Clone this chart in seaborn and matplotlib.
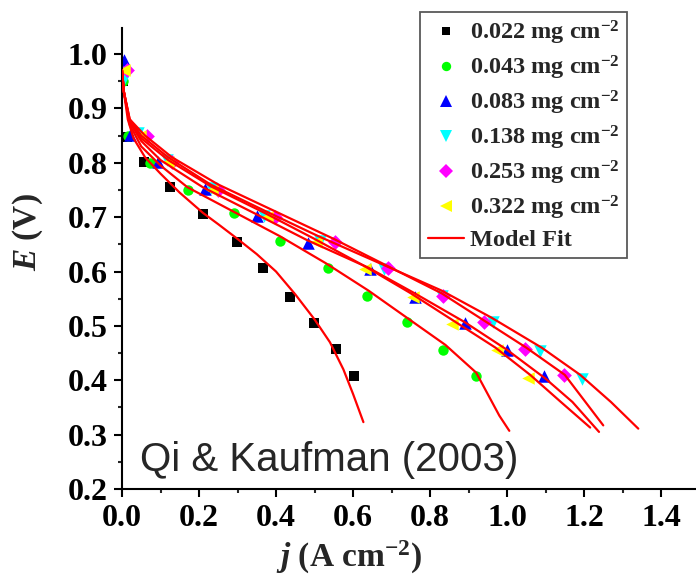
import numpy as np
import pandas as pd
import matplotlib
matplotlib.use("Agg")
import matplotlib.pyplot as plt
from matplotlib.lines import Line2D
import seaborn as sns

# ---------------- data ----------------
labels = ["0.022", "0.043", "0.083", "0.138", "0.253", "0.322"]

j_022 = [0.003, 0.012, 0.058, 0.125, 0.211, 0.298, 0.367, 0.436, 0.499, 0.555, 0.603]
E_022 = [0.95, 0.848, 0.801, 0.755, 0.706, 0.655, 0.607, 0.554, 0.506, 0.457, 0.408]
j_043 = [0.003, 0.015, 0.073, 0.172, 0.292, 0.41, 0.534, 0.637, 0.741, 0.833, 0.919]
E_043 = [0.95, 0.85, 0.80, 0.750, 0.708, 0.657, 0.607, 0.555, 0.507, 0.456, 0.407]
j_083 = [0.004, 0.021, 0.094, 0.216, 0.35, 0.484, 0.644, 0.761, 0.892, 1.0, 1.097]
E_083 = [0.99, 0.851, 0.802, 0.752, 0.703, 0.653, 0.605, 0.554, 0.506, 0.456, 0.408]
j_138 = [0.004, 0.042, 0.116, 0.23, 0.37, 0.514, 0.68, 0.83, 0.964, 1.087, 1.194]
E_138 = [0.955, 0.854, 0.806, 0.753, 0.703, 0.656, 0.605, 0.555, 0.508, 0.454, 0.403]
j_253 = [0.014, 0.064, 0.129, 0.25, 0.397, 0.553, 0.69, 0.833, 0.941, 1.048, 1.148]
E_253 = [0.97, 0.85, 0.802, 0.75, 0.701, 0.655, 0.606, 0.555, 0.507, 0.457, 0.41]
j_322 = [0.006, 0.047, 0.12, 0.233, 0.376, 0.504, 0.631, 0.757, 0.856, 0.973, 1.054]
E_322 = [0.97, 0.85, 0.802, 0.75, 0.701, 0.655, 0.604, 0.554, 0.503, 0.456, 0.405]

# model fit curves
fj_022 = [0.0, 0.005, 0.015, 0.03, 0.06, 0.10, 0.15, 0.21, 0.25, 0.30, 0.35, 0.40, 0.45, 0.50, 0.54, 0.575, 0.60, 0.627]
fE_022 = [0.97, 0.93, 0.88, 0.845, 0.81, 0.78, 0.745, 0.708, 0.687, 0.66, 0.632, 0.60, 0.558, 0.512, 0.47, 0.42, 0.375, 0.323]
fj_043 = [0.0, 0.005, 0.02, 0.05, 0.10, 0.17, 0.29, 0.41, 0.53, 0.64, 0.75, 0.84, 0.92, 0.98, 1.006]
fE_043 = [0.97, 0.93, 0.87, 0.83, 0.795, 0.755, 0.71, 0.665, 0.615, 0.565, 0.51, 0.465, 0.414, 0.335, 0.307]
fj_083 = [0.0, 0.005, 0.02, 0.05, 0.10, 0.21, 0.35, 0.48, 0.64, 0.76, 0.89, 1.0, 1.10, 1.17, 1.239]
fE_083 = [0.97, 0.93, 0.875, 0.84, 0.805, 0.755, 0.705, 0.658, 0.607, 0.56, 0.507, 0.456, 0.403, 0.36, 0.305]
fj_138 = [0.0, 0.005, 0.02, 0.05, 0.12, 0.23, 0.37, 0.51, 0.68, 0.83, 0.96, 1.09, 1.19, 1.27, 1.341]
fE_138 = [0.97, 0.93, 0.88, 0.85, 0.81, 0.76, 0.712, 0.665, 0.612, 0.565, 0.515, 0.46, 0.41, 0.36, 0.311]
fj_253 = [0.0, 0.005, 0.02, 0.06, 0.13, 0.25, 0.40, 0.55, 0.69, 0.83, 0.94, 1.05, 1.15, 1.25]
fE_253 = [0.97, 0.93, 0.88, 0.85, 0.81, 0.76, 0.71, 0.66, 0.61, 0.56, 0.51, 0.46, 0.41, 0.317]
fj_322 = [0.0, 0.005, 0.02, 0.05, 0.12, 0.23, 0.37, 0.50, 0.63, 0.75, 0.86, 0.97, 1.06, 1.14, 1.216]
fE_322 = [0.97, 0.93, 0.875, 0.845, 0.805, 0.757, 0.708, 0.66, 0.61, 0.56, 0.51, 0.46, 0.41, 0.36, 0.313]

x_ticks = [0.0, 0.2, 0.4, 0.6, 0.8, 1.0, 1.2, 1.4]
y_ticks = [0.2, 0.3, 0.4, 0.5, 0.6, 0.7, 0.8, 0.9, 1.0]

# ---------------- build tables ----------------
pts_j = [j_022, j_043, j_083, j_138, j_253, j_322]
pts_E = [E_022, E_043, E_083, E_138, E_253, E_322]
fit_j = [fj_022, fj_043, fj_083, fj_138, fj_253, fj_322]
fit_E = [fE_022, fE_043, fE_083, fE_138, fE_253, fE_322]

pts = pd.concat([pd.DataFrame({"j": a, "E": b, "loading": l})
                 for a, b, l in zip(pts_j, pts_E, labels)], ignore_index=True)
fits = pd.concat([pd.DataFrame({"j": a, "E": b, "loading": l})
                  for a, b, l in zip(fit_j, fit_E, labels)], ignore_index=True)

colors = {"0.022": "#000000", "0.043": "#00FF00", "0.083": "#0000FF",
          "0.138": "#00FFFF", "0.253": "#FF00FF", "0.322": "#FFFF00"}
marks = {"0.022": "s", "0.043": "o", "0.083": "^",
         "0.138": "v", "0.253": "D", "0.322": "<"}
sizes_pt = {"0.022": 7.0, "0.043": 7.5, "0.083": 9.0,
            "0.138": 9.0, "0.253": 7.5, "0.322": 9.0}

# ---------------- style ----------------
sns.set_style("ticks")
plt.rcParams["font.family"] = ["Liberation Serif", "DejaVu Serif"]
plt.rcParams["font.weight"] = "bold"
plt.rcParams["mathtext.fontset"] = "custom"
plt.rcParams["mathtext.rm"] = "Liberation Serif:bold"
plt.rcParams["mathtext.it"] = "Liberation Serif:italic:bold"
plt.rcParams["mathtext.bf"] = "Liberation Serif:bold"

fig = plt.figure(figsize=(6.96, 5.84), dpi=100)
ax = fig.add_axes([0.1753, 0.1627, 0.8242, 0.7894])

for l in labels:
    sub = pts[pts["loading"] == l]
    sns.scatterplot(data=sub, x="j", y="E", color=colors[l], marker=marks[l],
                    s=sizes_pt[l] ** 2, linewidth=0, ax=ax, legend=False, zorder=2)

sns.lineplot(data=fits, x="j", y="E", units="loading", estimator=None, sort=False,
             color="#FF0000", lw=1.6, ax=ax, legend=False, zorder=3)

ax.set_xlim(0, 1.49)
ax.set_ylim(0.2, 1.048)
ax.set_xticks(x_ticks)
ax.set_yticks(y_ticks)
ax.set_xticklabels([f"{v:.1f}" for v in x_ticks])
ax.set_yticklabels([f"{v:.1f}" for v in y_ticks])
ax.set_xticks(np.arange(0.1, 1.5, 0.2), minor=True)
ax.set_yticks(np.arange(0.25, 1.05, 0.1), minor=True)

for s in ["top", "right"]:
    ax.spines[s].set_visible(False)
for s in ["left", "bottom"]:
    ax.spines[s].set_linewidth(1.5)
    ax.spines[s].set_color("black")

ax.tick_params(which="major", direction="out", length=5.5, width=1.5,
               labelsize=23, pad=5, colors="black")
ax.tick_params(which="minor", direction="out", length=3, width=1.5)
for t in ax.get_xticklabels() + ax.get_yticklabels():
    t.set_fontweight("bold")

ax.set_xlabel(r"$j$ (A cm$^{-2}$)", fontsize=24, fontweight="bold")
ax.set_ylabel(r"$E$ (V)", fontsize=24, fontweight="bold")
ax.xaxis.set_label_coords(0.396, -0.108)
ax.yaxis.set_label_coords(-0.135, 0.558)

ax.text(0.047, 0.233, "Qi & Kaufman (2003)", fontsize=29, fontweight="normal",
        family=["Liberation Sans", "DejaVu Sans"], va="baseline", ha="left")

handles = [Line2D([], [], ls="none", marker=marks[l], color=colors[l],
                  markersize=sizes_pt[l] * 0.9, markeredgewidth=0) for l in labels]
handles.append(Line2D([], [], color="#FF0000", lw=1.6))
leg_labels = [f"{l} mg cm$^{{-2}}$" for l in labels] + ["Model Fit"]
leg = ax.legend(handles, leg_labels, loc="upper left", bbox_to_anchor=(0.520, 1.035),
                frameon=True, fancybox=False, edgecolor="#303030",
                prop={"family": "Liberation Serif", "weight": "bold", "size": 17.5},
                handlelength=1.5, handletextpad=0.25, labelspacing=0.28,
                borderpad=0.3, borderaxespad=0.0)
leg.get_frame().set_linewidth(1.3)

fig.savefig("out.png", dpi=100)
